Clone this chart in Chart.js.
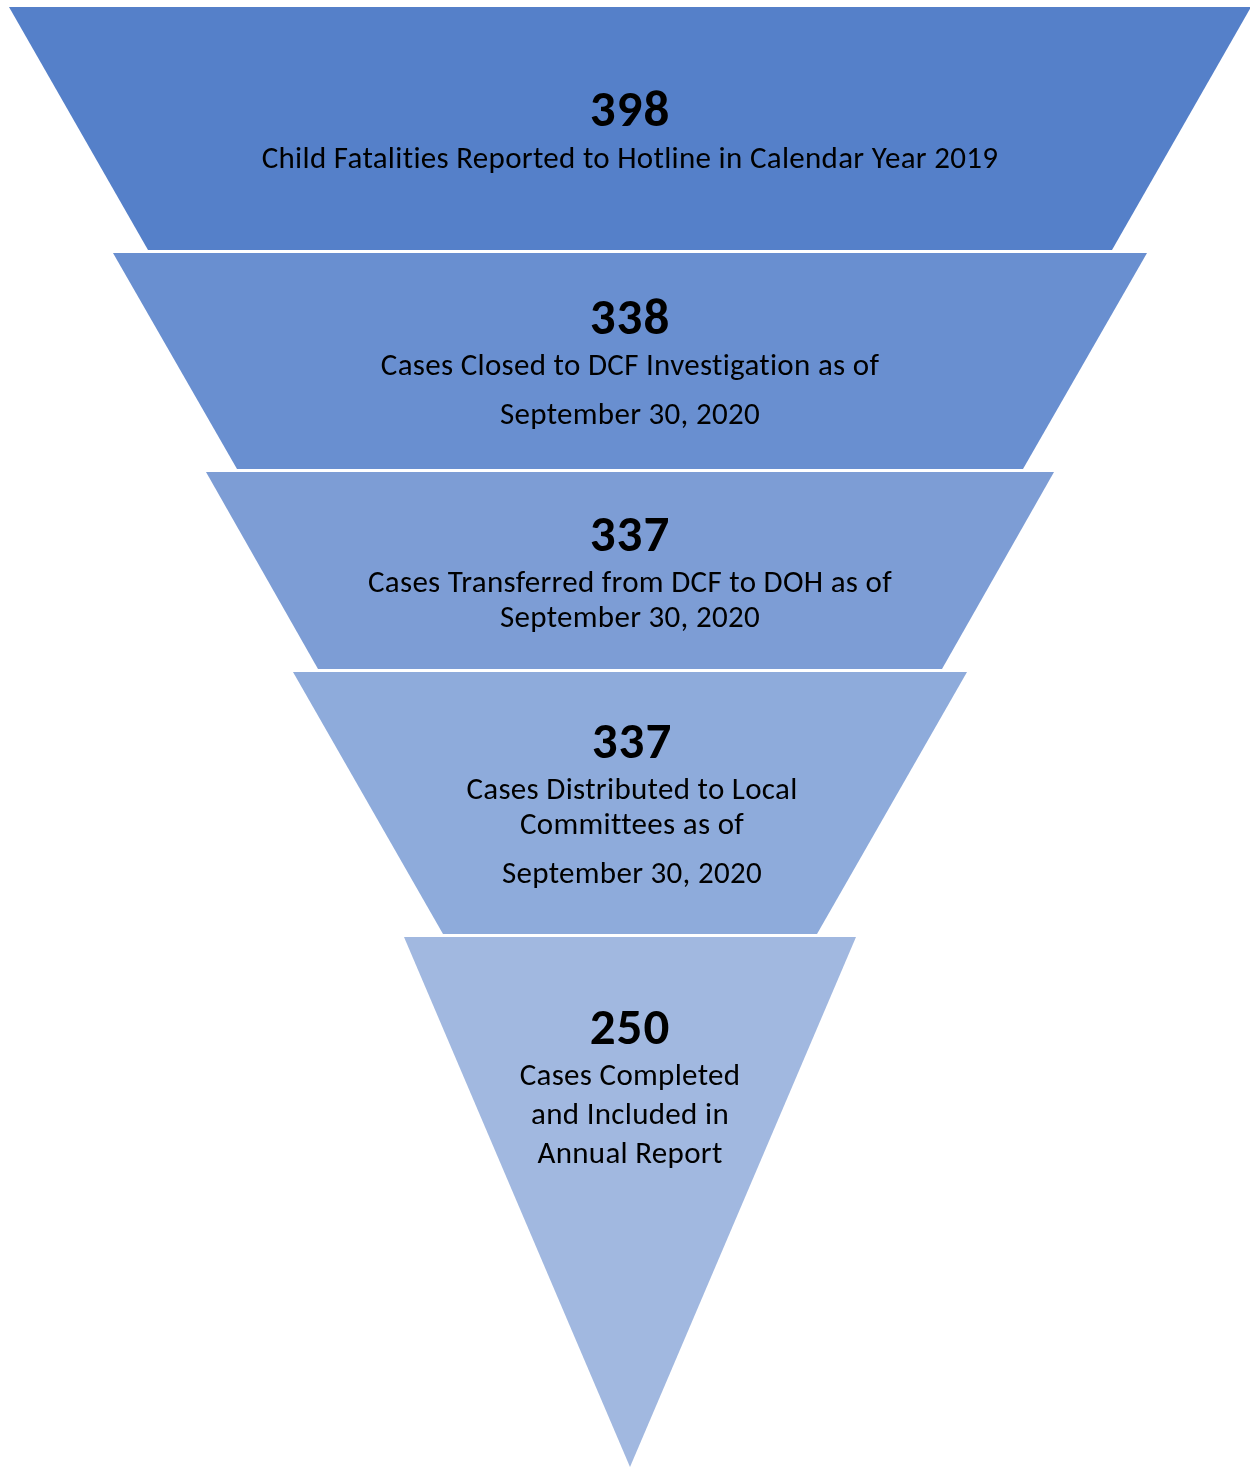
<!DOCTYPE html>
<html>
<head>
<meta charset="utf-8">
<script src="https://cdn.jsdelivr.net/npm/chart.js@4.4.1/dist/chart.umd.min.js"></script>
<style>
  html, body { margin: 0; padding: 0; background: #fff; }
  #wrap { width: 1250px; height: 1467px; }
</style>
</head>
<body>
<div id="wrap"><canvas id="funnel" width="1250" height="1467"></canvas></div>
<script>
// stage data
const stageValues = [398, 338, 337, 337, 250];
const stageLabels = [
  ["Child Fatalities Reported to Hotline in Calendar Year 2019"],
  ["Cases Closed to DCF Investigation as of", "September 30, 2020"],
  ["Cases Transferred from DCF to DOH as of", "September 30, 2020"],
  ["Cases Distributed to Local", "Committees as of", "September 30, 2020"],
  ["Cases Completed", "and Included in", "Annual Report"],
];

// funnel layout (in axis units, x 0..1250, y 0..1467 top-down)
const CENTER = 630;
const bandTop = [7, 253, 472, 672, 937];
const bandBottom = [250, 469, 669, 934, 1467];
const halfTop = [621, 517, 424, 337, 226];
const halfBottom = [482, 393, 312, 187, 0];
const COLORS = ["#5580c9", "#698fd0", "#7d9dd5", "#8eabdb", "#a1b8e0"];

// text layout
const textX = [630, 630, 630, 632, 630];
const numberY = [113, 321, 538, 745, 1031];
const labelY = [
  [160],
  [367, 416],
  [584, 619],
  [791, 826, 875],
  [1077, 1116, 1155],
];
const FONT = "Carlito, Lato, 'Open Sans', sans-serif";

const datasets = stageValues.map((v, i) => ({
  label: String(v),
  data: [
    { x: CENTER - halfTop[i], y: bandTop[i] },
    { x: CENTER + halfTop[i], y: bandTop[i] },
    { x: CENTER + halfBottom[i], y: bandBottom[i] },
    { x: CENTER - halfBottom[i], y: bandBottom[i] },
  ],
  showLine: true,
  fill: "shape",
  backgroundColor: COLORS[i],
  borderColor: "rgba(0,0,0,0)",
  borderWidth: 0,
  pointRadius: 0,
  pointHoverRadius: 0,
  tension: 0,
}));

/** draw the numbers and captions on each band */
const stageText = {
  id: "stageText",
  afterDatasetsDraw(chart) {
    const { ctx, scales } = chart;
    ctx.save();
    ctx.fillStyle = "#000";
    ctx.textAlign = "center";
    ctx.textBaseline = "middle";
    stageValues.forEach((v, i) => {
      const x = scales.x.getPixelForValue(textX[i]);
      ctx.letterSpacing = "1px";
      ctx.font = "bold 51px " + FONT;
      ctx.fillText(String(v), x, scales.y.getPixelForValue(numberY[i]));
      ctx.letterSpacing = "0.3px";
      ctx.font = "31px " + FONT;
      stageLabels[i].forEach((line, j) => {
        ctx.fillText(line, x, scales.y.getPixelForValue(labelY[i][j]));
      });
    });
    ctx.restore();
  },
};

new Chart(document.getElementById("funnel"), {
  type: "scatter",
  data: { datasets },
  options: {
    responsive: false,
    animation: false,
    layout: { padding: 0 },
    plugins: {
      legend: { display: false },
      tooltip: { enabled: false },
    },
    scales: {
      x: { type: "linear", min: 0, max: 1250, display: false },
      y: { type: "linear", min: 0, max: 1467, reverse: true, display: false },
    },
  },
  plugins: [stageText],
});
</script>
</body>
</html>
